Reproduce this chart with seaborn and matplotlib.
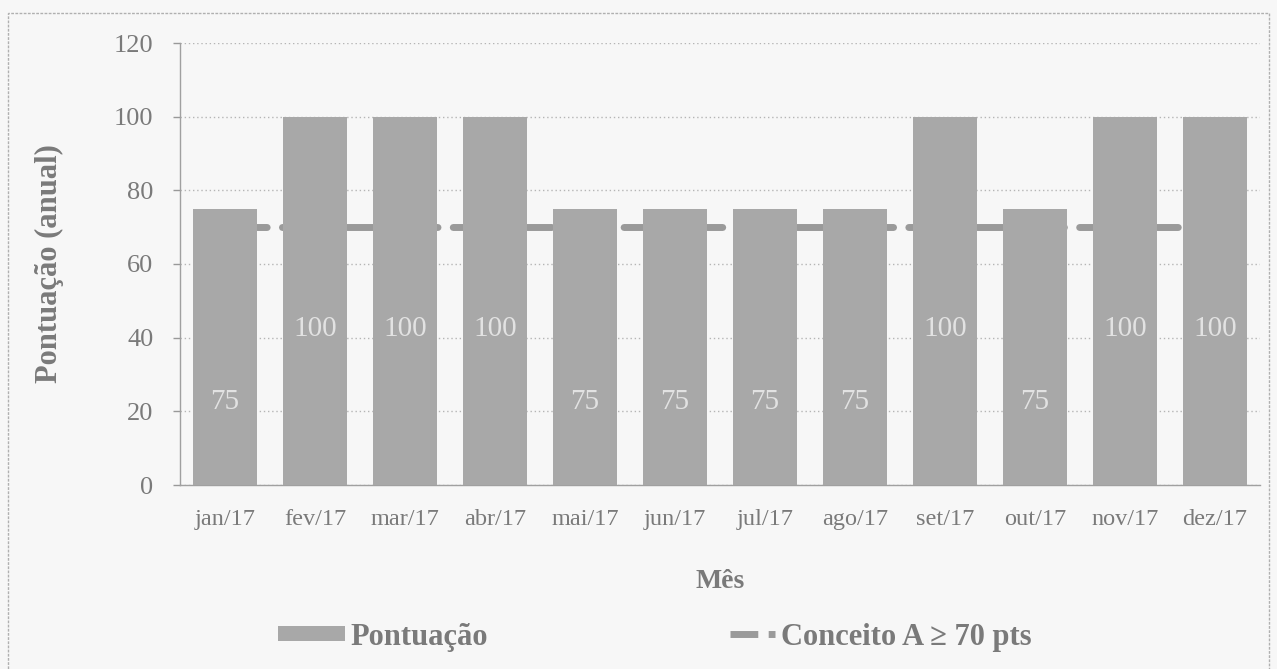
import numpy as np
import pandas as pd
import matplotlib
matplotlib.use("Agg")
import matplotlib.pyplot as plt
from matplotlib.patches import Rectangle, Patch
from matplotlib.lines import Line2D
import seaborn as sns

months = ['jan/17', 'fev/17', 'mar/17', 'abr/17', 'mai/17', 'jun/17',
          'jul/17', 'ago/17', 'set/17', 'out/17', 'nov/17', 'dez/17']
scores = [75, 100, 100, 100, 75, 75, 75, 75, 100, 75, 100, 100]
threshold = [70] * 12
yticks = [0, 20, 40, 60, 80, 100, 120]

bg = '#f7f7f7'
bar_color = '#a8a8a8'
text_color = '#7a7a7a'

sns.set_theme(style='white')
plt.rcParams['font.family'] = ['Liberation Serif', 'DejaVu Serif']

fig = plt.figure(figsize=(12.77, 6.69), dpi=100, facecolor=bg)
ax = fig.add_axes([180 / 1277, 1 - 485 / 669, 1080 / 1277, 442 / 669])
ax.set_facecolor(bg)

df = pd.DataFrame({'Mês': months, 'Pontuação': scores})
sns.barplot(data=df, x='Mês', y='Pontuação', color=bar_color, width=0.72,
            saturation=1, ax=ax, zorder=3, edgecolor='none')

sns.lineplot(x=np.arange(len(months)), y=threshold, ax=ax, color='#9a9a9a',
             linewidth=5, zorder=2, legend=False)
ln = ax.lines[-1]
ln.set_dashes([6, 2.2])
ln.set_dash_capstyle('round')

# value labels inside bars
for i, v in enumerate(scores):
    ax.text(i, v * 0.8 - 37.6, str(v), ha='center', va='center',
            fontsize=21, color='#e2e2e2', zorder=4)

ax.set_xlim(-0.5, len(months) - 0.5)
ax.set_ylim(0, 120)
ax.set_yticks(yticks)
ax.set_yticklabels([str(t) for t in yticks], fontsize=19, color=text_color)
ax.set_xticks(np.arange(len(months)))
ax.set_xticklabels(months, fontsize=17.5, color=text_color)
ax.set_xticks(np.arange(len(months) + 1) - 0.5, minor=True)
ax.tick_params(axis='x', which='major', length=0, pad=17)
ax.tick_params(axis='x', which='minor', length=5, color='#999999', width=1, direction='out')
ax.tick_params(axis='y', length=5, color='#999999', width=1, direction='out', left=True, pad=14)

ax.yaxis.grid(True, linestyle=(0, (1, 2)), color='#b5b5b5', linewidth=1, zorder=0)
ax.set_axisbelow(True)

for s in ['top', 'right']:
    ax.spines[s].set_visible(False)
for s in ['left', 'bottom']:
    ax.spines[s].set_color('#a0a0a0')
    ax.spines[s].set_linewidth(1)

ax.set_xlabel('Mês', fontsize=20, fontweight='bold', color=text_color, labelpad=28)
ax.set_ylabel('Pontuação (anual)', fontsize=22, fontweight='bold', color=text_color, labelpad=36)

# legends
h1 = Patch(facecolor=bar_color, edgecolor='none')
leg1 = fig.legend([h1], ['Pontuação'], loc='center left',
                  bbox_to_anchor=(250 / 1277, 1 - 637 / 669), frameon=False,
                  prop={'size': 22, 'weight': 'bold'}, handlelength=2.2,
                  handleheight=0.35, handletextpad=0.2, labelcolor=text_color)
h2 = Line2D([0], [0], color='#9a9a9a', linewidth=5, dashes=[4, 1.5])
leg2 = fig.legend([h2], ['Conceito A ≥ 70 pts'], loc='center left',
                  bbox_to_anchor=(702 / 1277, 1 - 637 / 669), frameon=False,
                  prop={'size': 22, 'weight': 'bold'}, handlelength=1.5,
                  handletextpad=0.2, labelcolor=text_color)

# outer frame of the chart area
fig.patches.append(Rectangle((8 / 1277, -0.01), 1261 / 1277, 1.01 - 13 / 669,
                             transform=fig.transFigure, fill=False,
                             edgecolor='#b0b0b0', linewidth=1, linestyle=(0, (2, 1))))

fig.savefig('out.png', dpi=100, facecolor=bg)
